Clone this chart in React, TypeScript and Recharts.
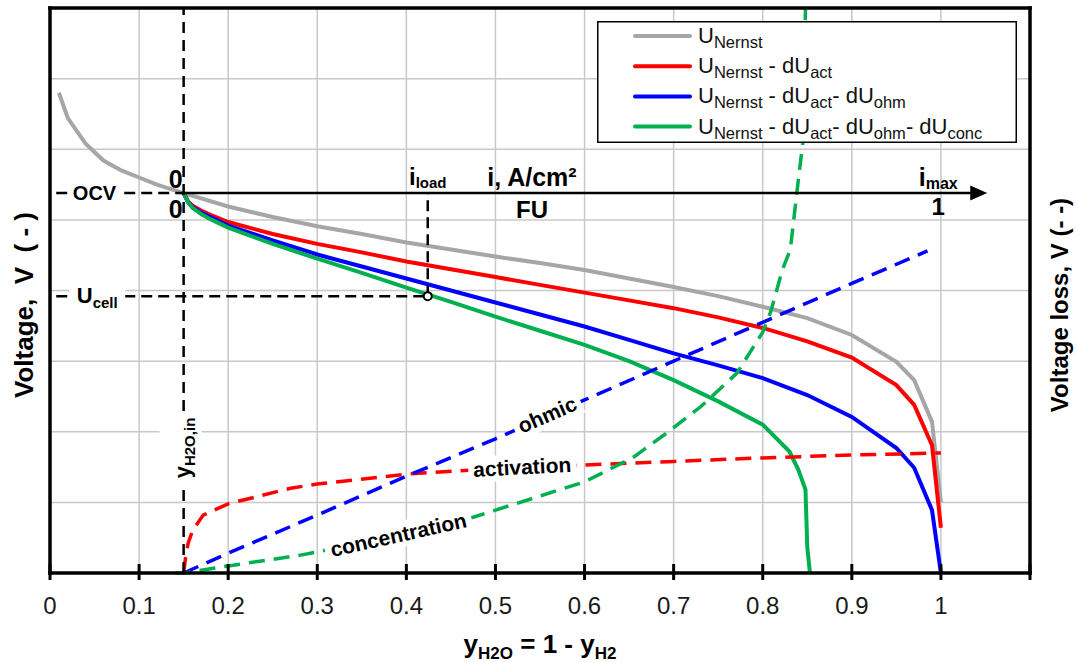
import React from 'react';
import {
  ComposedChart,
  Line,
  XAxis,
  YAxis,
  CartesianGrid,
  ReferenceLine,
  ReferenceDot,
  Legend,
} from 'recharts';

const FONT = "'Liberation Sans', Arial, Helvetica, sans-serif";

// ---------- axis ticks ----------
const xTicks = [0, 0.1, 0.2, 0.3, 0.4, 0.5, 0.6, 0.7, 0.8, 0.9, 1.0, 1.1];
const xTickLabels = ['0', '0.1', '0.2', '0.3', '0.4', '0.5', '0.6', '0.7', '0.8', '0.9', '1', ''];
const yTicks = [0, 1, 2, 3, 4, 5, 6, 7, 8];

// ---------- solid voltage curves ----------
const nernstX = [0.01, 0.02, 0.04, 0.06, 0.08, 0.1, 0.12, 0.15, 0.2, 0.25, 0.3, 0.35, 0.4, 0.45, 0.5, 0.55, 0.6, 0.65, 0.7, 0.75, 0.8, 0.85, 0.9, 0.95, 0.97, 0.99, 1.0];
const nernstV = [6.8, 6.44, 6.08, 5.84, 5.7, 5.6, 5.5, 5.38, 5.19, 5.04, 4.91, 4.8, 4.68, 4.58, 4.48, 4.39, 4.29, 4.17, 4.05, 3.92, 3.77, 3.61, 3.37, 2.99, 2.73, 2.14, 1.0];

const actX = [0.15, 0.155, 0.16, 0.17, 0.18, 0.2, 0.25, 0.3, 0.35, 0.4, 0.45, 0.5, 0.55, 0.6, 0.65, 0.7, 0.75, 0.8, 0.85, 0.9, 0.95, 0.97, 0.99, 1.0];
const actV = [5.38, 5.26, 5.2, 5.13, 5.07, 4.97, 4.8, 4.66, 4.54, 4.41, 4.3, 4.19, 4.08, 3.97, 3.86, 3.75, 3.62, 3.47, 3.28, 3.05, 2.66, 2.38, 1.81, 0.64];

const ohmX = [0.15, 0.155, 0.16, 0.17, 0.18, 0.2, 0.25, 0.3, 0.35, 0.4, 0.45, 0.5, 0.55, 0.6, 0.65, 0.7, 0.75, 0.8, 0.85, 0.9, 0.95, 0.97, 0.99, 1.0];
const ohmV = [5.38, 5.25, 5.18, 5.1, 5.04, 4.92, 4.71, 4.51, 4.34, 4.17, 4.0, 3.83, 3.66, 3.49, 3.3, 3.11, 2.94, 2.76, 2.52, 2.21, 1.77, 1.49, 0.89, 0];

const concX = [0.15, 0.155, 0.16, 0.17, 0.18, 0.2, 0.25, 0.3, 0.35, 0.4, 0.45, 0.5, 0.55, 0.6, 0.65, 0.7, 0.75, 0.8, 0.83, 0.84, 0.848, 0.85, 0.853];
const concV = [5.38, 5.25, 5.17, 5.08, 5.01, 4.89, 4.66, 4.45, 4.25, 4.04, 3.84, 3.63, 3.43, 3.23, 3.0, 2.73, 2.43, 2.1, 1.72, 1.46, 1.18, 0.37, 0];

// ---------- dashed voltage-loss curves ----------
const lossActX = [0.15, 0.152, 0.155, 0.16, 0.172, 0.2, 0.27, 0.3, 0.4, 0.5, 0.6, 0.7, 0.8, 0.9, 1.0];
const lossActV = [0, 0.2, 0.42, 0.6, 0.82, 0.98, 1.2, 1.26, 1.4, 1.48, 1.53, 1.58, 1.63, 1.67, 1.7];

const lossOhmX = [0.15, 0.2, 0.3, 0.4, 0.5, 0.6, 0.7, 0.8, 0.9, 0.985];
const lossOhmV = [0, 0.28, 0.82, 1.37, 1.9, 2.45, 3.0, 3.55, 4.1, 4.56];

const lossConcX = [0.14, 0.15, 0.2, 0.28, 0.35, 0.4, 0.475, 0.5, 0.6, 0.655, 0.692, 0.73, 0.771, 0.8, 0.809, 0.822, 0.831, 0.84, 0.845, 0.848];
const lossConcV = [0, 0, 0.1, 0.25, 0.42, 0.6, 0.79, 0.89, 1.29, 1.64, 1.98, 2.35, 2.83, 3.41, 3.7, 4.29, 4.58, 5.57, 6.09, 8];

// ---------- operating point ----------
const yH2Oin = 0.15;
const ocvV = 5.38;
const iLoadX = 0.424;
const uCellV = 3.92;
const iAxisEnd = 1.052;

const pts = (xs: number[], vs: number[]) => xs.map((x, i) => ({ x, v: vs[i] }));

const GRAY = '#a6a6a6';
const RED = '#ff0000';
const BLUE = '#0000ff';
const GREEN = '#00b050';

const solidSeries = [
  { key: 'nernst', color: GRAY, data: pts(nernstX, nernstV) },
  { key: 'act', color: RED, data: pts(actX, actV) },
  { key: 'ohm', color: BLUE, data: pts(ohmX, ohmV) },
  { key: 'conc', color: GREEN, data: pts(concX, concV) },
];
const dashedSeries = [
  { key: 'lAct', color: RED, data: pts(lossActX, lossActV) },
  { key: 'lOhm', color: BLUE, data: pts(lossOhmX, lossOhmV) },
  { key: 'lConc', color: GREEN, data: pts(lossConcX, lossConcV) },
];

// legend texts: [main, subscript] pairs
const legendRows: { color: string; parts: [string, string][] }[] = [
  { color: GRAY, parts: [['U', 'Nernst']] },
  { color: RED, parts: [['U', 'Nernst'], [' - dU', 'act']] },
  { color: BLUE, parts: [['U', 'Nernst'], [' - dU', 'act'], ['- dU', 'ohm']] },
  { color: GREEN, parts: [['U', 'Nernst'], [' - dU', 'act'], ['- dU', 'ohm'], ['- dU', 'conc']] },
];

const SubText = ({ parts, size, sub, shift }: { parts: [string, string][]; size: number; sub: number; shift: number }) => (
  <>
    {parts.map(([m, s], i) => (
      <React.Fragment key={i}>
        <tspan fontSize={size} dy={i === 0 ? 0 : -shift}>{m}</tspan>
        <tspan fontSize={sub} dy={shift}>{s}</tspan>
      </React.Fragment>
    ))}
  </>
);

const LegendBox = () => (
  <svg width={420} height={122} style={{ display: 'block' }}>
    <rect x={0.75} y={0.75} width={418.5} height={120.5} fill="#fff" stroke="#000" strokeWidth={1.5} />
    {legendRows.map((r, i) => {
      const cy = 15 + i * 30.2;
      return (
        <g key={i}>
          <line x1={38} x2={93} y1={cy} y2={cy} stroke={r.color} strokeWidth={4} strokeLinecap="round" />
          <text x={101} y={cy + 7} fontFamily={FONT} fill="#111">
            <SubText parts={r.parts} size={22} sub={16.5} shift={5} />
          </text>
        </g>
      );
    })}
  </svg>
);

const XTick = (props: any) => {
  const { x, y, index } = props;
  const ay = y - 1;
  const lbl = xTickLabels[index] ?? '';
  return (
    <g>
      <line x1={x} x2={x} y1={ay - 8} y2={ay + 8} stroke="#000" strokeWidth={3} />
      {lbl !== '' && (
        <text x={x} y={ay + 42} textAnchor="middle" fontSize={24} fontFamily={FONT} fill="#1a1a1a">
          {lbl}
        </text>
      )}
    </g>
  );
};

const NoTick = () => <g />;

const BoxLabel = ({ cx, cy, angle, w, h, children }: any) => (
  <g transform={`rotate(${angle} ${cx} ${cy})`}>
    <rect x={cx - w / 2} y={cy - h / 2} width={w} height={h} fill="#fff" />
    <text x={cx} y={cy} dy="0.35em" textAnchor="middle" fontSize={21} fontWeight="bold" fontFamily={FONT} fill="#000">
      {children}
    </text>
  </g>
);

const axisLineStyle = { stroke: '#000', strokeWidth: 3.5, strokeLinecap: 'square' as const };

export default function App() {
  return (
    <div style={{ position: 'absolute', left: 0, top: 0, width: 1077, height: 662, background: '#fff' }}>
      <ComposedChart
        width={1077}
        height={662}
        margin={{ top: 7, right: 46, bottom: 88, left: 49 }}
        style={{ fontFamily: FONT }}
      >
        <CartesianGrid stroke="#c8c8c8" strokeWidth={1.5} />
        <XAxis
          xAxisId={0}
          type="number"
          dataKey="x"
          domain={[0, 1.1]}
          ticks={xTicks}
          interval={0}
          height={1}
          tickSize={0}
          tickMargin={0}
          tickLine={false}
          axisLine={axisLineStyle}
          tick={<XTick />}
          label={{
            content: () => (
              <text x={540} y={653} textAnchor="middle" fontFamily={FONT} fontWeight="bold" fill="#000">
                <SubText parts={[['y', 'H2O'], [' = 1 - y', 'H2']]} size={26} sub={17} shift={6} />
              </text>
            ),
          }}
        />
        <XAxis xAxisId="top" orientation="top" type="number" domain={[0, 1.1]} height={1} tick={<NoTick />} tickLine={false} axisLine={axisLineStyle} />
        <YAxis
          yAxisId={0}
          type="number"
          domain={[0, 8]}
          ticks={yTicks}
          interval={0}
          width={1}
          tick={<NoTick />}
          tickLine={false}
          axisLine={axisLineStyle}
          label={{
            content: () => (
              <text
                x={24}
                y={305}
                transform="rotate(-90 24 305)"
                textAnchor="middle"
                dy="0.35em"
                fontSize={26}
                fontWeight="bold"
                fontFamily={FONT}
                fill="#000"
                style={{ whiteSpace: 'pre' }}
              >
                {'Voltage,  V  ( - )'}
              </text>
            ),
          }}
        />
        <YAxis
          yAxisId="right"
          orientation="right"
          type="number"
          domain={[0, 8]}
          ticks={yTicks}
          width={1}
          tick={<NoTick />}
          tickLine={false}
          axisLine={axisLineStyle}
          label={{
            content: () => (
              <text x={1060} y={305} transform="rotate(-90 1060 305)" textAnchor="middle" dy="0.35em" fontSize={24} fontWeight="bold" fontFamily={FONT} fill="#000">
                Voltage loss, V (- -)
              </text>
            ),
          }}
        />

        {solidSeries.map((s) => (
          <Line
            key={s.key}
            data={s.data}
            dataKey="v"
            type="linear"
            stroke={s.color}
            strokeWidth={4}
            dot={false}
            activeDot={false}
            isAnimationActive={false}
          />
        ))}
        {dashedSeries.map((s) => (
          <Line
            key={s.key}
            data={s.data}
            dataKey="v"
            type="linear"
            stroke={s.color}
            strokeWidth={3.5}
            strokeDasharray="16 9"
            dot={false}
            activeDot={false}
            isAnimationActive={false}
          />
        ))}

        {/* reference construction lines */}
        <ReferenceLine x={yH2Oin} stroke="#000" strokeWidth={2.5} strokeDasharray="11 7" />
        <ReferenceLine segment={[{ x: 0.007, y: ocvV }, { x: yH2Oin, y: ocvV }]} stroke="#000" strokeWidth={2.5} strokeDasharray="11 6" />
        <ReferenceLine segment={[{ x: 0.007, y: uCellV }, { x: iLoadX, y: uCellV }]} stroke="#000" strokeWidth={2.5} strokeDasharray="11 6" />
        <ReferenceLine segment={[{ x: iLoadX, y: uCellV }, { x: iLoadX, y: ocvV }]} stroke="#000" strokeWidth={2.5} strokeDasharray="11 6" />
        <ReferenceLine segment={[{ x: yH2Oin, y: ocvV }, { x: iAxisEnd - 0.015, y: ocvV }]} stroke="#000" strokeWidth={2.5} />
        <ReferenceDot
          x={iAxisEnd}
          y={ocvV}
          r={0}
          shape={(p: any) => <polygon points={`${p.cx},${p.cy} ${p.cx - 17},${p.cy - 7.5} ${p.cx - 17},${p.cy + 7.5}`} fill="#000" />}
        />
        <ReferenceDot x={iLoadX} y={uCellV} r={4} fill="#fff" stroke="#000" strokeWidth={2} />

        {/* secondary axis texts */}
        <ReferenceDot
          x={yH2Oin}
          y={ocvV}
          r={0}
          shape={(p: any) => (
            <g fontFamily={FONT} fontWeight="bold" fontSize={25} fill="#000">
              <text x={p.cx - 1} y={p.cy - 5} textAnchor="end">0</text>
              <text x={p.cx - 1} y={p.cy + 25} textAnchor="end">0</text>
            </g>
          )}
        />
        <ReferenceDot
          x={iLoadX}
          y={ocvV}
          r={0}
          shape={(p: any) => (
            <text x={p.cx} y={p.cy - 8} textAnchor="middle" fontFamily={FONT} fontWeight="bold" fill="#000">
              <SubText parts={[['i', 'load']]} size={24} sub={15} shift={3} />
            </text>
          )}
        />
        <ReferenceDot
          x={0.541}
          y={ocvV}
          r={0}
          shape={(p: any) => (
            <g fontFamily={FONT} fontWeight="bold" fontSize={25} fill="#000" textAnchor="middle">
              <text x={p.cx} y={p.cy - 7}>i, A/cm²</text>
              <text x={p.cx} y={p.cy + 25} fontSize={24}>FU</text>
            </g>
          )}
        />
        <ReferenceDot
          x={0.997}
          y={ocvV}
          r={0}
          shape={(p: any) => (
            <g fontFamily={FONT} fontWeight="bold" fill="#000" textAnchor="middle">
              <text x={p.cx} y={p.cy - 7}>
                <SubText parts={[['i', 'max']]} size={25} sub={16} shift={3} />
              </text>
              <text x={p.cx} y={p.cy + 22} fontSize={24}>1</text>
            </g>
          )}
        />

        {/* labels with white background */}
        <ReferenceDot
          x={0.05}
          y={ocvV}
          r={0}
          shape={(p: any) => (
            <g>
              <rect x={p.cx - 26} y={p.cy - 12} width={52} height={24} fill="#fff" />
              <text x={p.cx} y={p.cy} dy="0.36em" textAnchor="middle" fontSize={20} fontWeight="bold" fontFamily={FONT} fill="#000">OCV</text>
            </g>
          )}
        />
        <ReferenceDot
          x={0.053}
          y={uCellV}
          r={0}
          shape={(p: any) => (
            <g>
              <rect x={p.cx - 28} y={p.cy - 14} width={56} height={28} fill="#fff" />
              <text x={p.cx} y={p.cy + 7} textAnchor="middle" fontFamily={FONT} fontWeight="bold" fill="#000">
                <SubText parts={[['U', 'cell']]} size={22} sub={15} shift={5} />
              </text>
            </g>
          )}
        />
        <ReferenceDot
          x={yH2Oin}
          y={1.77}
          r={0}
          shape={(p: any) => (
            <g transform={`rotate(-90 ${p.cx} ${p.cy})`}>
              <rect x={p.cx - 36} y={p.cy - 24} width={72} height={42} fill="#fff" />
              <text x={p.cx} y={p.cy + 6} textAnchor="middle" fontFamily={FONT} fontWeight="bold" fill="#000">
                <SubText parts={[['y', 'H2O,in']]} size={22} sub={15} shift={5} />
              </text>
            </g>
          )}
        />
        <ReferenceDot
          x={0.53}
          y={1.5}
          r={0}
          shape={(p: any) => (
            <BoxLabel cx={p.cx} cy={p.cy} angle={-3} w={108} h={26}>activation</BoxLabel>
          )}
        />
        <ReferenceDot
          x={0.558}
          y={2.24}
          r={0}
          shape={(p: any) => (
            <BoxLabel cx={p.cx} cy={p.cy} angle={-23.5} w={72} h={26}>ohmic</BoxLabel>
          )}
        />
        <ReferenceDot
          x={0.391}
          y={0.54}
          r={0}
          shape={(p: any) => (
            <BoxLabel cx={p.cx} cy={p.cy} angle={-12.5} w={150} h={26}>concentration</BoxLabel>
          )}
        />

        <Legend
          layout="horizontal"
          verticalAlign="middle"
          align="center"
          content={() => <LegendBox />}
          wrapperStyle={{ position: 'absolute', left: 597, top: 21, width: 420, height: 122, margin: 0, padding: 0 }}
        />
      </ComposedChart>
    </div>
  );
}
